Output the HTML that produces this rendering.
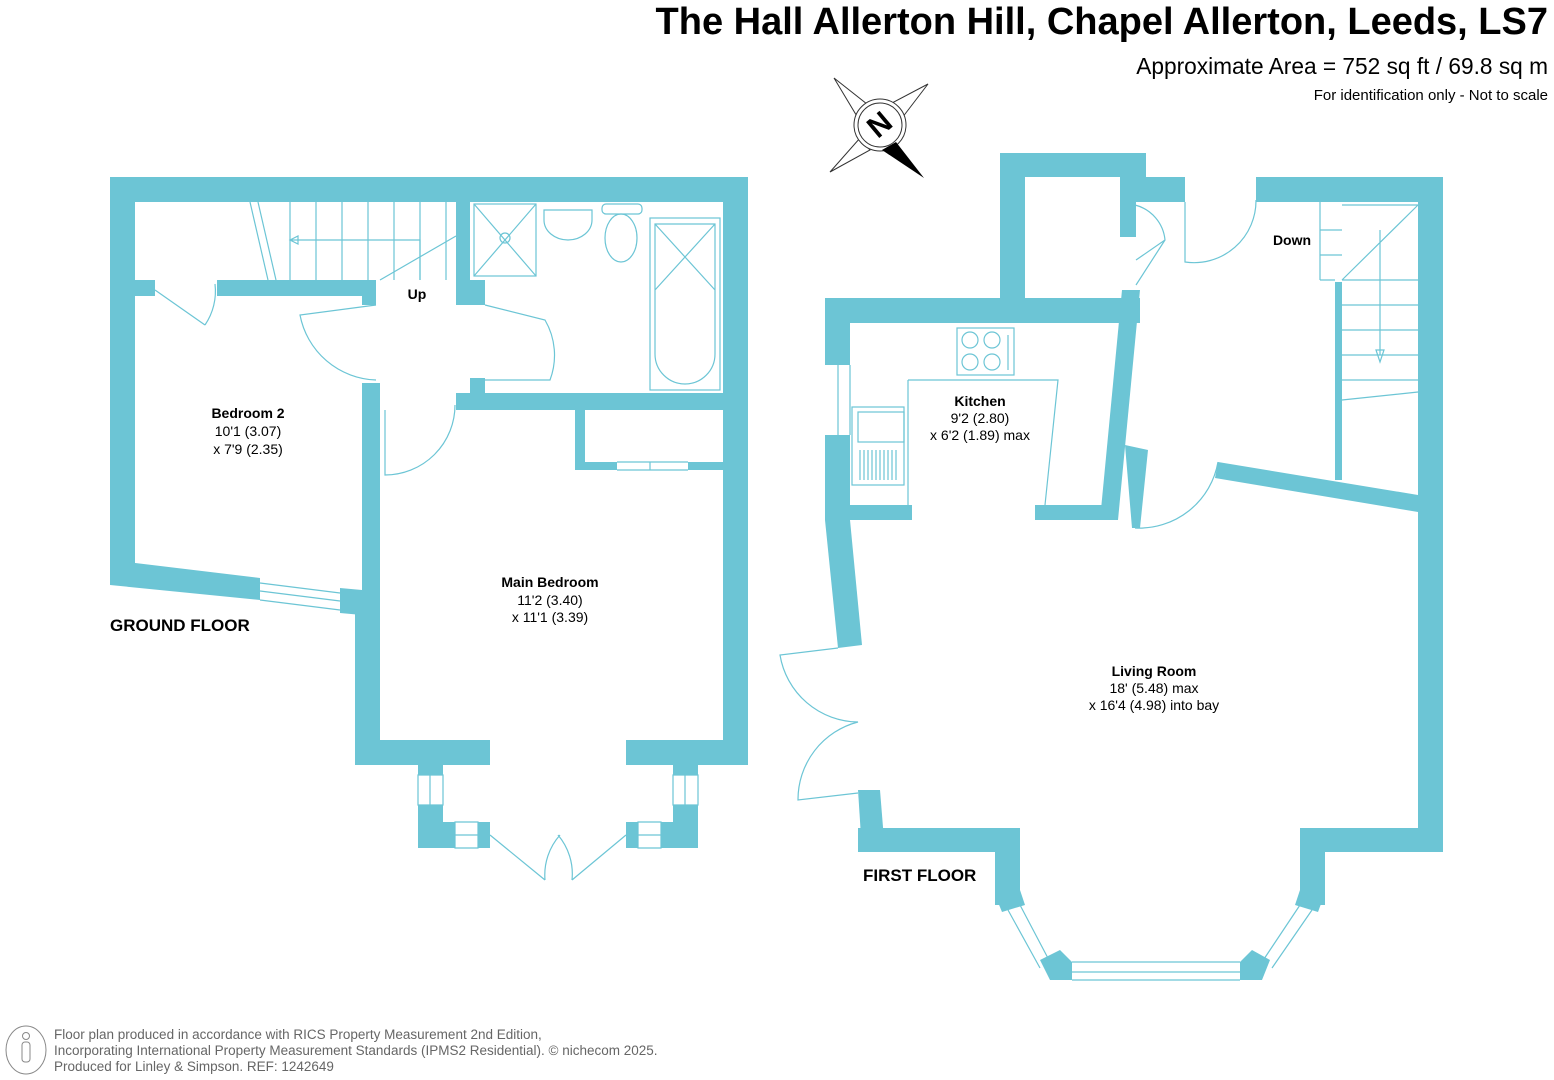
<!DOCTYPE html>
<html><head><meta charset="utf-8"><style>
html,body{margin:0;padding:0;background:#fff;}
svg{display:block;}
text{font-family:"Liberation Sans",Arial,sans-serif;}
</style></head><body>
<svg width="1554" height="1080" viewBox="0 0 1554 1080" xmlns="http://www.w3.org/2000/svg">
<rect width="1554" height="1080" fill="#fff"/>
<text x="1548" y="34" text-anchor="end" font-size="38" font-weight="bold" fill="#000">The Hall Allerton Hill, Chapel Allerton, Leeds, LS7</text>
<text x="1548" y="74" text-anchor="end" font-size="22.7" fill="#000">Approximate Area = 752 sq ft / 69.8 sq m</text>
<text x="1548" y="100" text-anchor="end" font-size="15" fill="#000">For identification only - Not to scale</text>

<!-- compass -->
<g stroke="#333" stroke-width="1" fill="#fff">
<polygon points="834,78 872,108 858,118"/>
<polygon points="928,84 902,118 890,104"/>
<polygon points="830,172 860,138 870,150"/>
<circle cx="880" cy="125" r="26"/><circle cx="880" cy="125" r="22"/>
</g>
<polygon points="896,142 924,178 882,150" fill="#000"/>
<text x="880" y="125" text-anchor="middle" dominant-baseline="central" font-size="30" font-weight="bold" transform="rotate(-40 880 125)">N</text>

<g fill="#6cc5d5">
<!-- GROUND FLOOR -->
<rect x="110" y="177" width="638" height="25"/>
<rect x="110" y="177" width="25" height="408"/>
<rect x="723" y="177" width="25" height="588"/>
<rect x="135" y="280" width="20" height="16"/>
<rect x="217" y="280" width="145" height="16"/>
<rect x="362" y="280" width="14" height="25"/>
<rect x="456" y="202" width="14" height="88"/>
<rect x="456" y="280" width="29" height="25"/>
<rect x="456" y="393" width="292" height="17"/>
<rect x="470" y="378" width="15" height="20"/>
<rect x="362" y="383" width="18" height="210"/>
<polygon points="110,560 260,578 260,600 110,585"/>
<polygon points="340,588 362,590 362,615 340,613"/>
<rect x="355" y="590" width="25" height="175"/>
<rect x="355" y="740" width="135" height="25"/>
<rect x="626" y="740" width="122" height="25"/>
<rect x="575" y="410" width="10" height="60"/>
<rect x="575" y="462" width="42" height="8"/>
<rect x="688" y="462" width="35" height="8"/>
<rect x="418" y="765" width="25" height="10"/>
<rect x="418" y="805" width="25" height="43"/>
<rect x="443" y="822" width="12" height="26"/>
<rect x="478" y="822" width="12" height="26"/>
<rect x="673" y="765" width="25" height="10"/>
<rect x="673" y="805" width="25" height="43"/>
<rect x="661" y="822" width="12" height="26"/>
<rect x="626" y="822" width="12" height="26"/>

<!-- FIRST FLOOR -->
<rect x="1000" y="153" width="146" height="24"/>
<rect x="1000" y="153" width="25" height="155"/>
<rect x="1120" y="177" width="65" height="25"/>
<rect x="1120" y="177" width="16" height="60"/>
<rect x="1256" y="177" width="187" height="25"/>
<rect x="1418" y="177" width="25" height="675"/>
<rect x="825" y="298" width="315" height="25"/>
<rect x="825" y="298" width="25" height="67"/>
<rect x="825" y="435" width="25" height="85"/>
<polygon points="1122,290 1140,290 1118,520 1100,520"/>
<rect x="825" y="505" width="87" height="15"/>
<rect x="1035" y="505" width="80" height="15"/>
<polygon points="825,520 850,520 862,645 838,648"/>
<polygon points="1125,445 1148,450 1140,528 1132,528"/>
<polygon points="1218,462 1418,495 1418,512 1215,478"/>
<rect x="1335" y="282" width="7" height="198"/>
<polygon points="858,790 880,790 885,852 862,852"/>
<rect x="858" y="828" width="162" height="24"/>
<rect x="995" y="828" width="25" height="77"/>
<rect x="1300" y="828" width="143" height="24"/>
<rect x="1300" y="828" width="25" height="77"/>
<polygon points="1040,960 1060,950 1072,962 1072,980 1050,980"/>
<polygon points="1270,960 1252,950 1240,962 1240,980 1262,980"/>
<polygon points="995,895 1020,890 1025,905 1002,912"/>
<polygon points="1325,893 1300,890 1295,905 1318,912"/>
</g>

<g stroke="#6cc5d5" stroke-width="1.2" fill="none">
<path d="M250,202 L268,280 M258,202 L276,280"/>
<path d="M290,202V280 M316,202V280 M342,202V280 M368,202V280 M394,202V280 M420,202V280 M446,202V280"/>
<path d="M290,240 H420 V280 M380,280 L456,236 M290,240 l8,-4 v8 z"/>
<rect x="474" y="204" width="62" height="72"/><path d="M474,204 L536,276 M536,204 L474,276"/><circle cx="505" cy="238" r="5"/>
<path d="M544,210 h48 v10 a24,20 0 0 1 -48,0 z"/>
<ellipse cx="621" cy="238" rx="16" ry="24"/><rect x="602" y="204" width="40" height="10" rx="4"/>
<rect x="650" y="218" width="70" height="172"/><path d="M655,224 h60 v130 a30,30 0 0 1 -60,0 z M655,224 L715,290 M715,224 L655,290"/>
<path d="M155,290 L205,325 M205,325 A60,60 0 0 0 215,284"/>
<path d="M376,305 L300,315 A80,80 0 0 0 376,380"/>
<path d="M485,305 L545,320 A70,70 0 0 1 550,380 L485,380"/>
<path d="M385,410 L385,475 A70,70 0 0 0 455,405"/>
<path d="M260,583 L340,593 M260,600 L340,610 M260,591 L340,601"/>
<path d="M617,462 h71 M617,470 h71 M650,462 v8"/>
<path d="M418,775 h25 v30 h-25 z M430,775 v30 M455,822 h23 v26 h-23 z M455,835 h23"/>
<path d="M673,775 h25 v30 h-25 z M685,775 v30 M638,822 h23 v26 h-23 z M638,835 h23"/>
<path d="M490,835 L545,880 M545,880 A60,60 0 0 1 560,835 M626,835 L572,880 M572,880 A60,60 0 0 0 558,835"/>
<rect x="957" y="328" width="57" height="47"/><circle cx="970" cy="340" r="8"/><circle cx="992" cy="340" r="8"/><circle cx="970" cy="362" r="8"/><circle cx="992" cy="362" r="8"/><path d="M1008,335 v35"/>
<path d="M908,380 H1058 L1045,505 M908,380 V505"/>
<rect x="852" y="407" width="52" height="78"/><rect x="858" y="412" width="46" height="30"/>
<path d="M860,450 v30 M864,450 v30 M868,450 v30 M872,450 v30 M876,450 v30 M880,450 v30 M884,450 v30 M888,450 v30 M892,450 v30 M896,450 v30"/>
<path d="M838,365 v70 M850,365 v70"/>
<path d="M1136,260 L1165,240 A40,40 0 0 0 1135,205 M1136,285 L1165,240"/>
<path d="M1185,202 V262 A62,62 0 0 0 1256,200"/>
<path d="M1320,202 V280 M1342,280 H1418 M1342,305 H1418 M1342,330 H1418 M1342,355 H1418 M1342,380 H1418 M1342,400 L1418,392 M1342,205 L1418,205 M1320,230 H1342 M1320,255 H1342 M1320,280 H1335 M1342,280 L1418,205 M1380,230 V355 M1376,350 l4,12 l4,-12 z"/>
<path d="M1135,528 A80,80 0 0 0 1218,462"/>
<path d="M838,648 L780,655 A80,80 0 0 0 858,722 A80,80 0 0 0 798,800 L858,793"/>
<path d="M1020,905 L1050,962 M1008,910 L1040,968 M1072,962 H1240 M1072,972 H1240 M1072,980 H1240 M1300,905 L1262,962 M1312,910 L1272,968"/>
</g>

<g font-size="14" fill="#000" text-anchor="middle">
<text x="417" y="299" font-weight="bold">Up</text>
<text x="248" y="418" font-weight="bold">Bedroom 2</text>
<text x="248" y="436">10'1 (3.07)</text>
<text x="248" y="454">x 7'9 (2.35)</text>
<text x="550" y="587" font-weight="bold">Main Bedroom</text>
<text x="550" y="605">11'2 (3.40)</text>
<text x="550" y="622">x 11'1 (3.39)</text>
<text x="980" y="406" font-weight="bold">Kitchen</text>
<text x="980" y="423">9'2 (2.80)</text>
<text x="980" y="440">x 6'2 (1.89) max</text>
<text x="1292" y="245" font-weight="bold">Down</text>
<text x="1154" y="676" font-weight="bold">Living Room</text>
<text x="1154" y="693">18' (5.48) max</text>
<text x="1154" y="710">x 16'4 (4.98) into bay</text>
</g>
<text x="110" y="631" font-size="17" font-weight="bold">GROUND FLOOR</text>
<text x="863" y="881" font-size="17" font-weight="bold">FIRST FLOOR</text>

<g fill="#666" font-size="13.5">
<ellipse cx="26" cy="1050" rx="20" ry="24" fill="none" stroke="#888"/>
<circle cx="26" cy="1036" r="3.5" fill="none" stroke="#888"/>
<rect x="22" y="1042" width="8" height="20" rx="3" fill="none" stroke="#888"/>
<text x="54" y="1039">Floor plan produced in accordance with RICS Property Measurement 2nd Edition,</text>
<text x="54" y="1055">Incorporating International Property Measurement Standards (IPMS2 Residential).   © nichecom 2025.</text>
<text x="54" y="1071">Produced for Linley &amp; Simpson.   REF:  1242649</text>
</g>
</svg>
</body></html>
